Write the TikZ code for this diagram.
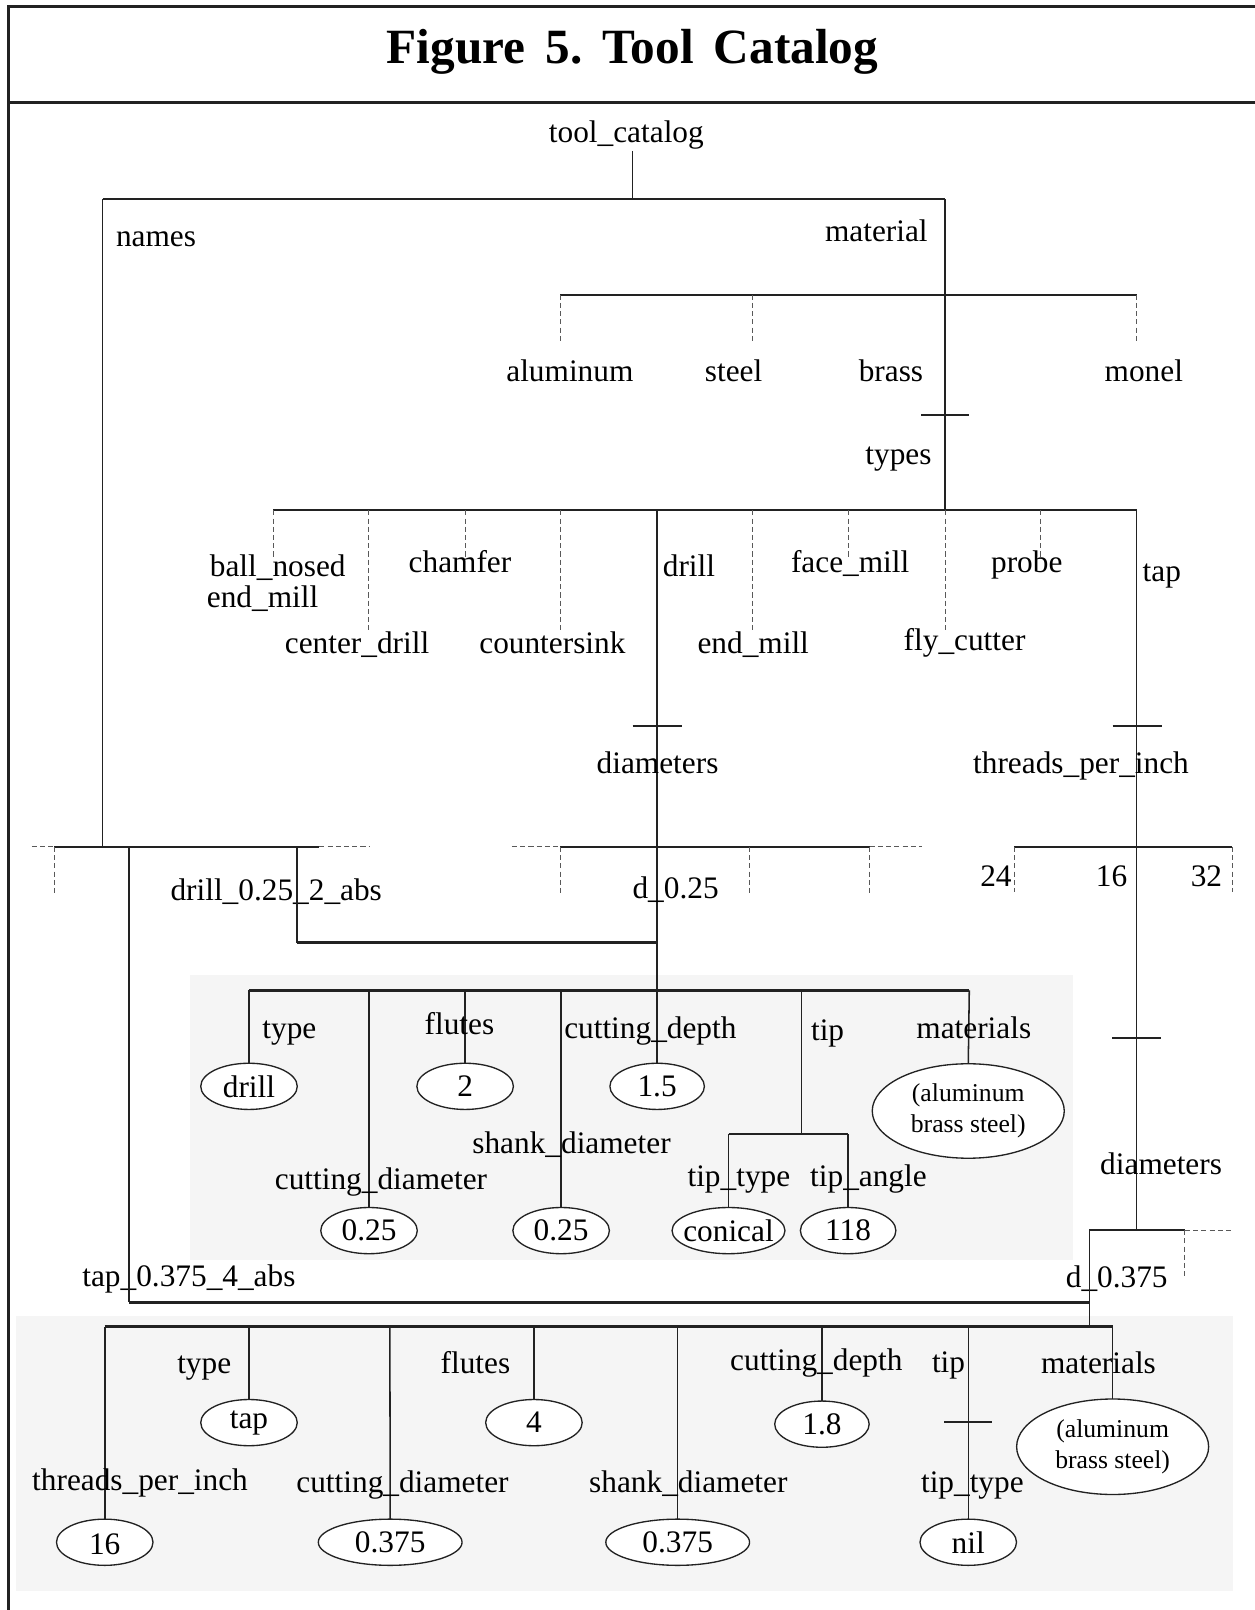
\documentclass[tikz,border=0pt]{standalone}
\usepackage{fontspec}
\setmainfont{Liberation Serif}
\usetikzlibrary{shapes.geometric}
\newcommand\lblfont{\fontsize{30.5pt}{36pt}\selectfont}
\newcommand\matfont{\fontsize{25pt}{30.5pt}\selectfont}
\newcommand\vtext[1]{\makebox[0pt]{#1}}
\definecolor{lnc}{HTML}{222222}
\definecolor{shadec}{HTML}{F5F5F5}
\tikzset{
  lbl/.style={anchor=base, inner sep=0pt, outer sep=0pt, font=\lblfont},
  vnode/.style={ellipse, draw=lnc, fill=white, line width=1.3pt, inner sep=0pt,
     outer sep=0pt, minimum height=45pt, minimum width=#1, font=\lblfont},
  vnode/.default=94pt,
  bar/.style={draw=lnc, line width=2.3pt},
  stem/.style={draw=lnc, line width=1.5pt},
  tickm/.style={draw=lnc, line width=2pt},
  dsh/.style={draw=black!65, line width=1pt, dash pattern=on 5pt off 3pt},
  frameline/.style={draw=lnc, line width=2.7pt},
  shadebox/.style={fill=shadec}
}
\begin{document}
\begin{tikzpicture}[x=1pt,y=-1pt]
\useasboundingbox (0,0) rectangle (1222,1568);
% shaded panels
\fill[shadebox] (184.8,949.4) rectangle (1044.6,1227.5);
\fill[shadebox] (15.6,1281.4) rectangle (1200.5,1549);
% frame
\coordinate (fBL) at (8.5,1568);
\coordinate (fTL) at (8.5,6);
\coordinate (fTR) at (1222,6);
\coordinate (sL) at (8.5,100);
\coordinate (sR) at (1222,100);
\draw[frameline] (fBL) -- (fTL) -- (fTR);
\draw[frameline] (sL) -- (sR);
\node[anchor=base, inner sep=0pt, font=\fontsize{48pt}{56pt}\selectfont\bfseries] (title) at (616,62)
  {Figure\hspace{19.5pt}5.\hspace{19.5pt}Tool\hspace{19.5pt}Catalog};

% root
\node[lbl] (root) at (610,139) {tool\_catalog};
\coordinate (rootdown) at (616,147);
\coordinate (top) at (616,194);
\coordinate (topL) at (100,194);
\coordinate (topR) at (920.5,194);
\draw[stem] (rootdown) -- (top);
\draw[bar] (topL) -- (topR);
\node[lbl] (names) at (152,240) {names};
\node[lbl] (material) at (853.5,235) {material};

% material level
\coordinate (mL) at (545.7,287);
\coordinate (mS) at (733,287);
\coordinate (mB) at (920.5,287);
\coordinate (mR) at (1107,287);
\draw[bar] (mL) -- (mR);
\draw[dsh] (mL) -- ++(0,47);
\draw[dsh] (mS) -- ++(0,47);
\draw[dsh] (mR) -- ++(0,47);
\node[lbl] (alu) at (555,371.6) {aluminum};
\node[lbl] (steel) at (714.5,371.6) {steel};
\node[lbl] (brass) at (867.7,371.6) {brass};
\node[lbl] (monel) at (1114,371.6) {monel};
\coordinate (bt) at (920.5,404);
\draw[tickm] ([xshift=-23.5pt]bt) -- ([xshift=23.5pt]bt);
\node[lbl] (types) at (875,452.6) {types};

% types level
\coordinate (tB) at (920.5,497);
\coordinate (tL) at (266,497);
\coordinate (tR) at (1107,497);
\coordinate (tD) at (640,497);
\draw[stem] (topR) -- (tB);
\draw[bar] (tL) -- (tR);
\foreach \x in {266,453,826.5,1013.5} \draw[dsh] (\x,497) -- (\x,542);
\foreach \x in {359,546,733,920.5} \draw[dsh] (\x,497) -- (\x,614);
\node[lbl] (bn1) at (270.5,561.5) {ball\_nosed};
\node[lbl] (bn2) at (255.7,591.7) {end\_mill};
\node[lbl] (chamfer) at (448,558) {chamfer};
\node[lbl] (drill) at (671,561.5) {drill};
\node[lbl] (facemill) at (828,558) {face\_mill};
\node[lbl] (probe) at (1000,558) {probe};
\node[lbl] (tap) at (1131.5,566.5) {tap};
\node[lbl] (centerdrill) at (347.7,636.8) {center\_drill};
\node[lbl] (countersink) at (538,636.8) {countersink};
\node[lbl] (endmill) at (733.6,636.8) {end\_mill};
\node[lbl] (flycutter) at (939.4,634) {fly\_cutter};

% drill chain
\coordinate (drB) at (640,964.6);
\draw[stem] (tD) -- (drB);
\coordinate (dt) at (640,707.4);
\draw[tickm] ([xshift=-24pt]dt) -- ([xshift=24pt]dt);
\node[lbl] (diam1) at (640.4,753.7) {diameters};
\coordinate (d1L) at (545.5,824.8);
\coordinate (d1R) at (847,824.8);
\draw[dsh] (498.6,824.8) -- (d1L);
\draw[bar] (d1L) -- (d1R);
\draw[dsh] (d1R) -- (897.5,824.8);
\draw[dsh] (d1L) -- ++(0,47);
\draw[dsh] (730,824.8) -- ++(0,47);
\draw[dsh] (d1R) -- ++(0,47);
\node[lbl] (d025) at (658,875) {d\_0.25};

% tap chain
\coordinate (tpB) at (1061,1198);
\coordinate (tpS) at (1107,1198);
\draw[stem] (tR) -- (tpS);
\coordinate (tt1) at (1107.5,707.4);
\draw[tickm] ([xshift=-24pt]tt1) -- ([xshift=24pt]tt1);
\node[lbl] (tpi) at (1052.8,753.7) {threads\_per\_inch};
\coordinate (thL) at (988,824.8);
\coordinate (thR) at (1200,824.8);
\draw[bar] (thL) -- (thR);
\draw[dsh] (thL) -- ++(0,44);
\draw[dsh] (thR) -- ++(0,44);
\node[lbl] (n24) at (970,863.3) {24};
\node[lbl] (n16) at (1082.5,863.3) {16};
\node[lbl] (n32) at (1175,863.3) {32};
\coordinate (tt2) at (1107,1011);
\draw[tickm] ([xshift=-24pt]tt2) -- ([xshift=24pt]tt2);
\node[lbl] (diam2) at (1130.8,1143.4) {diameters};
\coordinate (d2R) at (1154,1198);
\draw[bar] (tpB) -- (d2R);
\draw[dsh] (d2R) -- (1200.8,1198);
\draw[dsh] (d2R) -- ++(0,47.5);
\node[lbl] (d0375) at (1087.6,1254) {d\_0.375};

% names level
\coordinate (nT) at (100,824.8);
\coordinate (nL) at (53,824.8);
\coordinate (nR) at (311,824.8);
\coordinate (nDrill) at (289,824.8);
\coordinate (nTap) at (125.4,824.8);
\draw[stem] (topL) -- (nT);
\draw[dsh] (31,824.8) -- (nL);
\draw[bar] (nL) -- (nR);
\draw[dsh] (nR) -- (360,824.8);
\draw[dsh] (nL) -- ++(0,46.5);
\node[lbl] (drillname) at (269,876.8) {drill\_0.25\_2\_abs};
\node[lbl] (tapname) at (184,1253) {tap\_0.375\_4\_abs};
\coordinate (jD) at (289,918);
\coordinate (jD2) at (640,918);
\draw[stem] (nDrill) -- (jD);
\draw[bar] (jD) -- (jD2);
\coordinate (jT) at (125.4,1268.4);
\coordinate (jT2) at (1061,1268.4);
\coordinate (tsB) at (1061,1292);
\draw[stem] (nTap) -- (jT);
\draw[bar] (jT) -- (jT2);
\draw[stem] (tpB) -- (tsB);

% drill instance subtree
\coordinate (dbL) at (242.5,964.6);
\coordinate (dbR) at (944,964.6);
\draw[bar] (dbL) -- (dbR);
\node[vnode] (edrill) at (242.5,1058) {\vtext{drill}};
\node[vnode] (eflutes) at (453,1058) {\vtext{2}};
\node[vnode=92pt] (edepth) at (640,1058) {\vtext{1.5}};
\node[vnode=187pt, minimum height=92pt] (emat) at (943,1082)
  {\vtext{\matfont\begin{tabular}{@{}c@{}}(aluminum\\brass steel)\end{tabular}}};
\node[vnode] (ecd) at (359.4,1198.5) {\vtext{0.25}};
\node[vnode] (esd) at (546.5,1198.5) {\vtext{0.25}};
\node[vnode=110pt] (econ) at (709.5,1198.5) {\vtext{conical}};
\node[vnode=93pt] (eang) at (826,1198.5) {\vtext{118}};
\draw[stem] (dbL) -- (edrill.north);
\draw[stem] (359.4,964.6) -- (ecd.north);
\draw[stem] (453,964.6) -- (eflutes.north);
\draw[stem] (546.5,964.6) -- (esd.north);
\draw[stem] (drB) -- (edepth.north);
\draw[stem] (dbR) -- (emat.north);
\coordinate (tipT) at (780.4,964.6);
\coordinate (tipB) at (780.4,1104.5);
\coordinate (tipL) at (709.5,1104.5);
\coordinate (tipR) at (826,1104.5);
\draw[stem] (tipT) -- (tipB);
\draw[bar] (tipL) -- (tipR);
\draw[stem] (tipL) -- (econ.north);
\draw[stem] (tipR) -- (eang.north);
\node[lbl] (l1) at (281.8,1011.6) {type};
\node[lbl] (l2) at (447.5,1007.8) {flutes};
\node[lbl] (l3) at (633.4,1011) {cutting\_depth};
\node[lbl] (l4) at (806,1013) {tip};
\node[lbl] (l5) at (948.4,1011) {materials};
\node[lbl] (l6) at (556.6,1123.6) {shank\_diameter};
\node[lbl] (l7) at (371,1158.7) {cutting\_diameter};
\node[lbl] (l8) at (719.6,1156) {tip\_type};
\node[lbl] (l9) at (845.8,1156) {tip\_angle};

% tap instance subtree
\coordinate (tbL) at (102,1292);
\coordinate (tbR) at (1083.6,1292);
\draw[bar] (tbL) -- (tbR);
\node[vnode] (etap) at (242.5,1385.5) {\vtext{tap}};
\node[vnode] (e4) at (520,1385.5) {\vtext{4}};
\node[vnode=92pt] (e18) at (800.5,1387) {\vtext{1.8}};
\node[vnode=187pt, minimum height=93pt] (emat2) at (1083.6,1409)
  {\vtext{\matfont\begin{tabular}{@{}c@{}}(aluminum\\brass steel)\end{tabular}}};
\node[vnode] (e16) at (102,1502) {\vtext{\raisebox{-12pt}[0pt][0pt]{16}}};
\node[vnode=140pt] (ecd2) at (380,1502) {\vtext{0.375}};
\node[vnode=140pt] (esd2) at (660,1502) {\vtext{0.375}};
\node[vnode] (enil) at (943,1502) {\vtext{nil}};
\draw[stem] (tbL) -- (e16.north);
\draw[stem] (242.5,1292) -- (etap.north);
\draw[stem] (379.7,1292) -- (ecd2.north);
\draw[stem] (520,1292) -- (e4.north);
\draw[stem] (660,1292) -- (esd2.north);
\draw[stem] (800.5,1292) -- (e18.north);
\draw[stem] (943,1292) -- (enil.north);
\draw[stem] (tbR) -- (emat2.north);
\coordinate (tt3) at (943,1385);
\draw[tickm] ([xshift=-23.5pt]tt3) -- ([xshift=23.5pt]tt3);
\node[lbl] (m1) at (198.9,1338) {type};
\node[lbl] (m2) at (463,1338) {flutes};
\node[lbl] (m3) at (795,1335) {cutting\_depth};
\node[lbl] (m4) at (923.8,1337) {tip};
\node[lbl] (m5) at (1069.8,1338) {materials};
\node[lbl] (m6) at (136.4,1451.5) {threads\_per\_inch};
\node[lbl] (m7) at (392,1454) {cutting\_diameter};
\node[lbl] (m8) at (670.4,1454) {shank\_diameter};
\node[lbl] (m9) at (947,1454) {tip\_type};
\end{tikzpicture}
\end{document}
